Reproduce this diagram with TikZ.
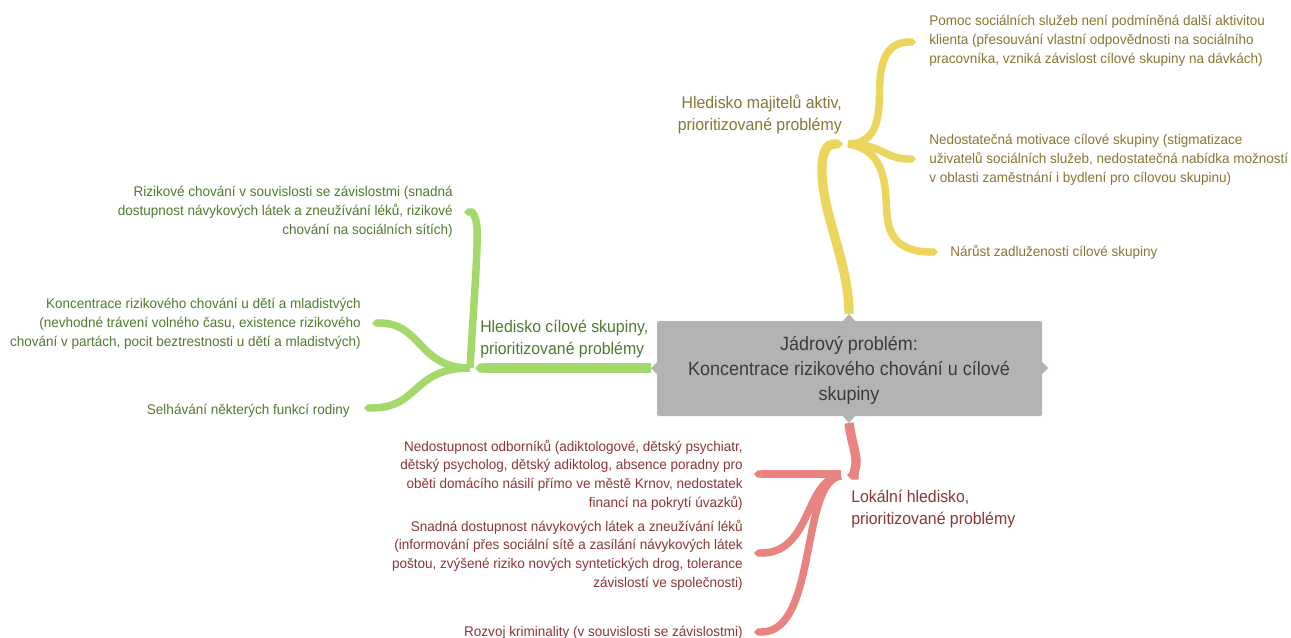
\documentclass[tikz,border=0pt]{standalone}
\usepackage{fontspec}
\setmainfont{Liberation Sans}[FakeStretch=0.95]
\newfontfamily\smallfam{Liberation Sans}[FakeStretch=0.965]
\newfontfamily\topicfam{Liberation Sans}[FakeStretch=0.944]
\newfontfamily\corefam{Liberation Sans}[FakeStretch=0.936]
\usetikzlibrary{arrows.meta}
\definecolor{ylw}{HTML}{EBD55C}
\definecolor{grn}{HTML}{A3D86A}
\definecolor{red1}{HTML}{E8837F}
\definecolor{ytext}{HTML}{857632}
\definecolor{gtext}{HTML}{4F7A2E}
\definecolor{rtext}{HTML}{8B3535}
\definecolor{boxgray}{HTML}{B3B3B3}
\definecolor{ctext}{HTML}{3C3C3C}
\tikzset{
  mainbr/.style={line width=7pt, -{Triangle Cap}},
  subbr/.style={line width=5.6pt, -{Triangle Cap}},
  small/.style={inner sep=0pt, font=\smallfam\fontsize{10.5pt}{14pt}\selectfont},
  topic/.style={inner sep=0pt, font=\topicfam\fontsize{12.6pt}{16.5pt}\selectfont},
  central/.style={inner sep=0pt, font=\corefam\fontsize{14.4pt}{18.4pt}\selectfont, text=ctext, align=center},
}
\begin{document}
\begin{tikzpicture}[x=0.75pt,y=-0.75pt]
\path[use as bounding box] (0,0) rectangle (1291,637);

% central box
\fill[boxgray, rounded corners=1.5pt] (657,321) rectangle (1042,416);
\fill[boxgray] (842,322) -- (849,314) -- (856,322) -- cycle;
\fill[boxgray] (842,415) -- (849,423) -- (856,415) -- cycle;
\fill[boxgray] (658,361) -- (651,368) -- (658,375) -- cycle;
\fill[boxgray] (1041,361) -- (1048,368) -- (1041,375) -- cycle;
\node[central, anchor=base] (core) at (849,400) {Jádrový problém:\\Koncentrace rizikového chování u cílové\\skupiny};
\coordinate (ctop) at (849,314);
\coordinate (cbot) at (849,423);
\coordinate (cleft) at (651,368);

% yellow branch
\coordinate (yhub) at (843,144);
\draw[ylw, mainbr] (ctop) .. controls (849,262) and (822,215) .. (822,170) .. controls (822,150) and (828,144) .. (yhub);
\node[topic, text=ytext, align=right, anchor=base east] (yt) at (842,130) {Hledisko majitelů aktiv,\\prioritizované problémy};
\node[small, text=ytext, align=left, anchor=base west] (y1) at (929,63) {Pomoc sociálních služeb není podmíněná další aktivitou\\klienta (přesouvání vlastní odpovědnosti na sociálního\\pracovníka, vzniká závislost cílové skupiny na dávkách)};
\node[small, text=ytext, align=left, anchor=base west] (y2) at (929,182) {Nedostatečná motivace cílové skupiny (stigmatizace\\uživatelů sociálních služeb, nedostatečná nabídka možností\\v oblasti zaměstnání i bydlení pro cílovou skupinu)};
\node[small, text=ytext, align=left, anchor=base west] (y3) at (950,256) {Nárůst zadluženosti cílové skupiny};
\coordinate (ye1) at (916,42);
\coordinate (ye2) at (916,159);
\coordinate (ye3) at (938,252);
\draw[ylw, subbr] (848,144) .. controls (885,144) and (878,100) .. (880,80) .. controls (882,50) and (895,42) .. (ye1);
\draw[ylw, subbr] (848,144) .. controls (882,144) and (885,159) .. (ye2);
\draw[ylw, subbr] (848,144) .. controls (888,150) and (885,190) .. (887,215) .. controls (889,245) and (910,252) .. (ye3);

% green branch
\coordinate (ghub) at (475,368);
\draw[grn, mainbr] (cleft) -- (ghub);
\node[topic, text=gtext, align=left, anchor=base west] (gt) at (480,354) {Hledisko cílové skupiny,\\prioritizované problémy};
\node[small, text=gtext, align=right, anchor=base east] (g1) at (453,234) {Rizikové chování v souvislosti se závislostmi (snadná\\dostupnost návykových látek a zneužívání léků, rizikové\\chování na sociálních sítích)};
\node[small, text=gtext, align=right, anchor=base east] (g2) at (361,346) {Koncentrace rizikového chování u dětí a mladistvých\\(nevhodné trávení volného času, existence rizikového\\chování v partách, pocit beztrestnosti u dětí a mladistvých)};
\node[small, text=gtext, align=right, anchor=base east] (g3) at (350,414) {Selhávání některých funkcí rodiny};
\coordinate (ge1) at (464,212);
\coordinate (ge2) at (372,323);
\coordinate (ge3) at (364,408);
\draw[grn, subbr] (470,368) .. controls (474,300) and (478,250) .. (477,228) .. controls (476,215) and (472,212) .. (ge1);
\draw[grn, subbr] (470,368) .. controls (418,368) and (422,323) .. (ge2);
\draw[grn, subbr] (470,368) .. controls (412,368) and (420,408) .. (ge3);

% red branch
\coordinate (rhub) at (847,475);
\draw[red1, mainbr] (cbot) .. controls (851,440) and (857,455) .. (856,464) .. controls (855,472) and (852,475) .. (rhub);
\node[topic, text=rtext, align=left, anchor=base west] (rt) at (851,524) {Lokální hledisko,\\prioritizované problémy};
\node[small, text=rtext, align=right, anchor=base east] (r1) at (743,507) {Nedostupnost odborníků (adiktologové, dětský psychiatr,\\dětský psycholog, dětský adiktolog, absence poradny pro\\oběti domácího násilí přímo ve městě Krnov, nedostatek\\financí na pokrytí úvazků)};
\node[small, text=rtext, align=right, anchor=base east] (r2) at (743,587) {Snadná dostupnost návykových látek a zneužívání léků\\(informování přes sociální sítě a zasílání návykových látek\\poštou, zvýšené riziko nových syntetických drog, tolerance\\závislostí ve společnosti)};
\node[small, text=rtext, align=right, anchor=base east] (r3) at (743,636) {Rozvoj kriminality (v souvislosti se závislostmi)};
\coordinate (re1) at (754,474);
\coordinate (re2) at (754,553);
\coordinate (re3) at (754,632);
\draw[red1, subbr] (841,474) -- (re1);
\draw[red1, subbr] (841,476) .. controls (805,478) and (812,553) .. (re2);
\draw[red1, subbr] (841,476) .. controls (800,480) and (818,632) .. (re3);
\end{tikzpicture}
\end{document}
